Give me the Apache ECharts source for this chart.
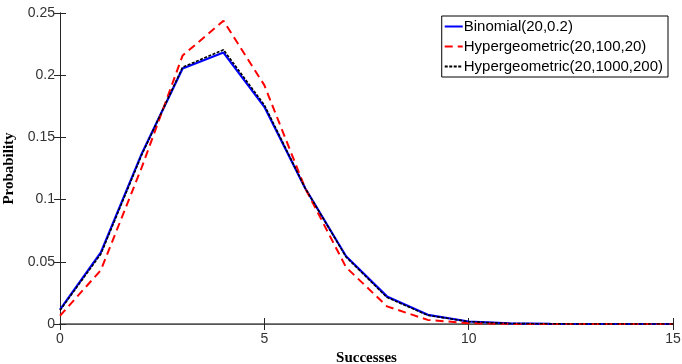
<!DOCTYPE html>
<html>
<head>
<meta charset="utf-8">
<script src="https://cdn.jsdelivr.net/npm/echarts@6/dist/echarts.min.js"></script>
<style>
html, body { margin: 0; padding: 0; background: #fff; }
#chart { width: 682px; height: 364px; }
</style>
</head>
<body>
<div id="chart"></div>
<script>
var successes = [0, 1, 2, 3, 4, 5, 6, 7, 8, 9, 10, 11, 12, 13, 14, 15];
var binomial = [0.0115, 0.0576, 0.1369, 0.2054, 0.2182, 0.1746, 0.1091, 0.0545, 0.0222, 0.0074, 0.0020, 0.0005, 0.0001, 0, 0, 0];
var hyperSmall = [0.0066, 0.0433, 0.1259, 0.2158, 0.2437, 0.1920, 0.1091, 0.0456, 0.0142, 0.0033, 0.0006, 0.0001, 0, 0, 0, 0];
var hyperLarge = [0.0110, 0.0563, 0.1360, 0.2064, 0.2204, 0.1761, 0.1092, 0.0539, 0.0214, 0.0070, 0.0019, 0.0004, 0.0001, 0, 0, 0];
var seriesNames = ['Binomial(20,0.2)', 'Hypergeometric(20,100,20)', 'Hypergeometric(20,1000,200)'];

function pairs(vals) {
	return successes.map(function (x, i) { return [x, vals[i]]; });
}

var axisColor = '#262626';
var tickFont = { fontFamily: 'Liberation Sans', fontSize: 14, color: '#333' };

var option = {
	animation: false,
	backgroundColor: '#fff',
	grid: { left: 60, right: 9, top: 13, bottom: 40, outerBoundsMode: 'none', containLabel: false },
	legend: {
		orient: 'vertical',
		right: 14,
		top: 16,
		data: seriesNames,
		backgroundColor: '#fff',
		borderColor: '#000',
		borderWidth: 1,
		borderRadius: 0,
		padding: [2, 5, 2, 2],
		itemGap: 3,
		itemWidth: 18,
		itemHeight: 12,
		itemStyle: { opacity: 0 },
		textStyle: { fontFamily: 'Liberation Sans', fontSize: 15, lineHeight: 17, color: '#000', padding: [0, 0, 0, -4] }
	},
	xAxis: [{
		type: 'value',
		min: 0, max: 15, interval: 5,
		name: 'Successes',
		nameLocation: 'middle',
		nameGap: 25,
		nameTextStyle: { fontFamily: 'Liberation Serif', fontWeight: 'bold', fontSize: 15, color: '#000' },
		axisLine: { lineStyle: { color: '#555', width: 1.5 } },
		axisTick: { inside: true, length: 6, lineStyle: { color: axisColor } },
		axisLabel: Object.assign({ margin: 8 }, tickFont),
		splitLine: { show: false }
	}, {
		type: 'value',
		position: 'top',
		min: 0, max: 15, interval: 5,
		axisLine: { show: true, lineStyle: { color: '#555', width: 1.2 } },
		axisTick: { inside: true, length: 6, lineStyle: { color: axisColor } },
		axisLabel: { show: false },
		splitLine: { show: false }
	}],
	yAxis: [{
		type: 'value',
		min: 0, max: 0.25, interval: 0.05,
		name: 'Probability',
		nameLocation: 'middle',
		nameGap: 37,
		nameTextStyle: { fontFamily: 'Liberation Serif', fontWeight: 'bold', fontSize: 15, color: '#000' },
		axisLine: { show: true, lineStyle: { color: axisColor, width: 1 } },
		axisTick: { show: true, inside: true, length: 6, lineStyle: { color: axisColor } },
		axisLabel: Object.assign({ margin: 5 }, tickFont),
		splitLine: { show: false }
	}, {
		type: 'value',
		position: 'right',
		min: 0, max: 0.25, interval: 0.05,
		axisLine: { show: true, lineStyle: { color: axisColor, width: 1 } },
		axisTick: { show: true, inside: true, length: 6, lineStyle: { color: axisColor } },
		axisLabel: { show: false },
		splitLine: { show: false }
	}],
	series: [{
		name: seriesNames[0],
		type: 'line',
		symbol: 'none',
		data: pairs(binomial),
		lineStyle: { color: '#0000ff', width: 2.2 },
		itemStyle: { color: '#0000ff' }
	}, {
		name: seriesNames[1],
		type: 'line',
		symbol: 'none',
		data: pairs(hyperSmall),
		lineStyle: { color: '#ff0000', width: 2, type: [8, 5] },
		itemStyle: { color: '#ff0000' }
	}, {
		name: seriesNames[2],
		type: 'line',
		symbol: 'none',
		data: pairs(hyperLarge),
		lineStyle: { color: '#000000', width: 1.6, type: [3, 1.5] },
		itemStyle: { color: '#000000' }
	}]
};

var chart = echarts.init(document.getElementById('chart'));
chart.setOption(option);
</script>
</body>
</html>
